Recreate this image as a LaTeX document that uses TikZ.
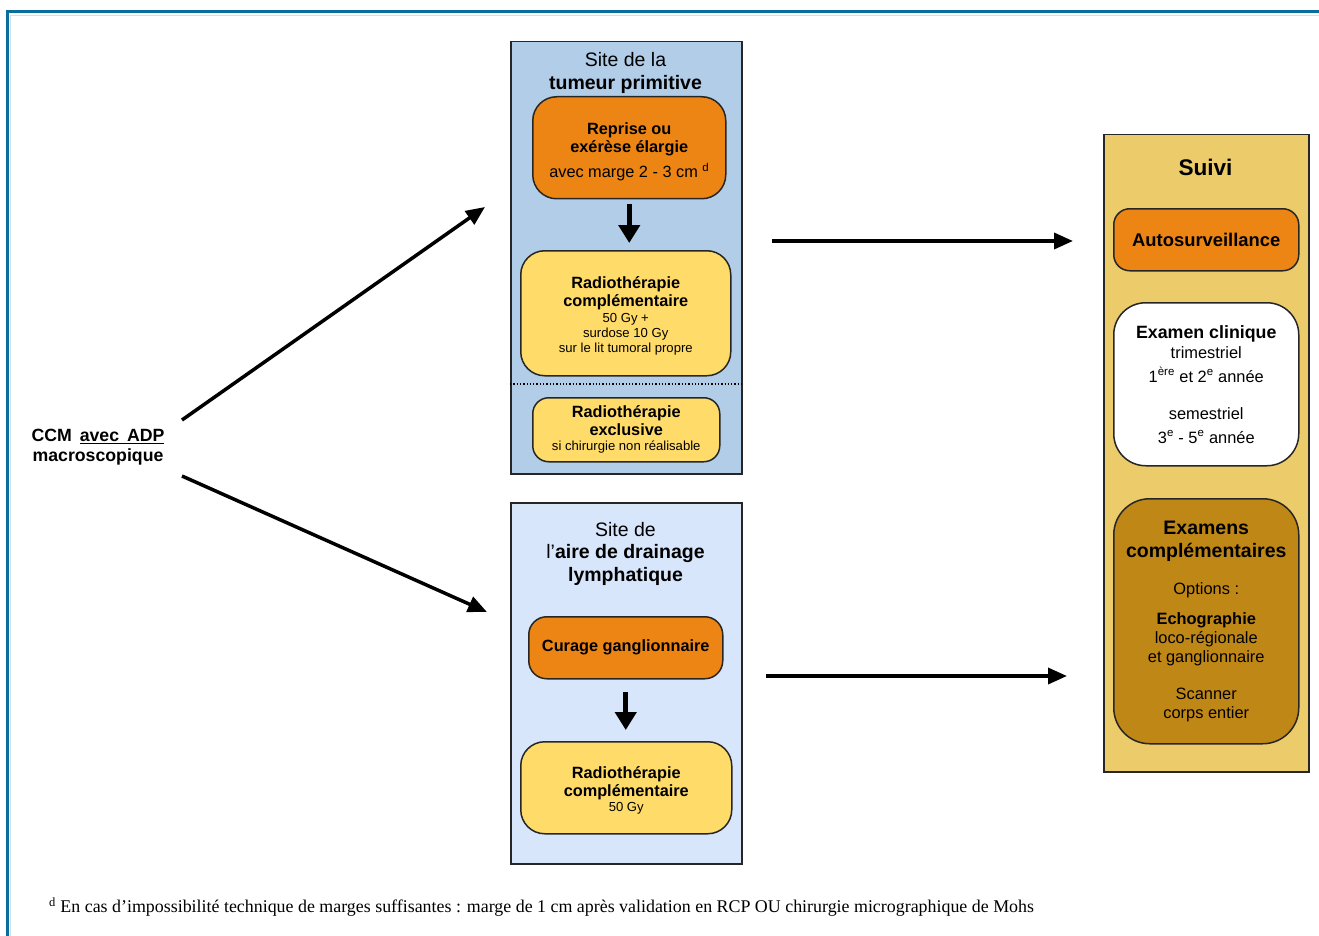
\documentclass[tikz,border=0pt]{standalone}
\usepackage{fontspec}
\setmainfont{Liberation Sans}
\newfontfamily\notefont{Liberation Serif}
\usepackage{xcolor}
\usepackage{tikz}
\usetikzlibrary{
  arrows.meta,
  positioning,
  calc
}
\definecolor{FrameBlue}{HTML}{0A6E9C}
\definecolor{SiteBlue}{HTML}{B1CDE8}
\definecolor{DrainBlue}{HTML}{D8E6FB}
\definecolor{CareOrange}{HTML}{EC8513}
\definecolor{RadioYellow}{HTML}{FFDB6A}
\definecolor{SuiviGold}{HTML}{EBCB6A}
\definecolor{ExamGold}{HTML}{BF8716}
\definecolor{EdgeGrey}{HTML}{262626}

\newcommand{\boxfont}{\fontsize{16.3}{18}\selectfont}
\newcommand{\smallfont}{\fontsize{13.1}{15}\selectfont}
\newcommand{\titlefont}{\fontsize{19.5}{22.5}\selectfont}

\tikzset{
  panel/.style={draw=EdgeGrey, line width=1.5pt, anchor=north west, inner sep=0pt},
  carebox/.style={draw=EdgeGrey, line width=1.5pt, anchor=north west,
    rounded corners=24pt, align=center, inner sep=0pt, font=\boxfont},
  flow/.style={line width=3.5pt, -{Triangle[length=19pt,width=16pt]}},
  downflow/.style={line width=5pt, -{Triangle[length=18pt,width=21pt]}}
}

\begin{document}
\begin{tikzpicture}[x=1pt,y=-1pt]
  \useasboundingbox (0,0) rectangle (1319,936);
  % frame
  \draw[FrameBlue!20, line width=1pt] (10.5,936) -- (10.5,15.5) -- (1319,15.5);
  \draw[FrameBlue, line width=3pt] (7.5,936) -- (7.5,12) -- (1319,12);

  % site de la tumeur primitive
  \node[panel, fill=SiteBlue, minimum width=231pt, minimum height=432pt] (tumeur) at (510,41) {};
  \node[align=center, font=\titlefont] (tumeurTitle) at (625.5,73)
    {Site de la\\ \textbf{tumeur primitive}};
  \node[carebox, fill=CareOrange, minimum width=193pt, minimum height=102pt] (reprise) at (532,96)
    {\rule{0pt}{20pt}\textbf{Reprise ou}\\ \textbf{exérèse élargie}\\[7pt] avec marge 2 - 3 cm \textsuperscript{d}};
  \node[carebox, fill=RadioYellow, minimum width=210pt, minimum height=125pt] (radioComp) at (520,250)
    {\rule{0pt}{17pt}\textbf{Radiothérapie}\\ \textbf{complémentaire}\\[-2pt]
     {\smallfont 50 Gy +}\\[-3pt] {\smallfont surdose 10 Gy}\\[-3pt] {\smallfont sur le lit tumoral propre}};
  \draw[line width=1.3pt, dotted] (tumeur.west |- 0,384) -- (tumeur.east |- 0,384);
  \node[carebox, fill=RadioYellow, rounded corners=16pt, minimum width=187pt, minimum height=64pt] (radioExcl) at (532,397)
    {\textbf{Radiothérapie}\\ \textbf{exclusive}\\[-3pt] {\smallfont si chirurgie non réalisable}};
  \draw[downflow, shorten <=5pt, shorten >=7pt] (reprise.south) -- (reprise.south |- radioComp.north);

  % site de l'aire de drainage
  \node[panel, fill=DrainBlue, minimum width=231pt, minimum height=361pt] (drainage) at (510,502) {};
  \node[align=center, font=\titlefont] (drainageTitle) at (625.5,553.5)
    {Site de\\ l’\textbf{aire de drainage}\\ \textbf{lymphatique}};
  \node[carebox, fill=CareOrange, rounded corners=18pt, minimum width=194pt, minimum height=62pt] (curage) at (528,616)
    {\textbf{Curage ganglionnaire}};
  \node[carebox, fill=RadioYellow, minimum width=211pt, minimum height=92pt] (radioDrain) at (520,741)
    {\rule{0pt}{17pt}\textbf{Radiothérapie}\\ \textbf{complémentaire}\\[-3pt] {\smallfont 50 Gy}};
  \draw[downflow, shorten <=12pt, shorten >=11pt] (curage.south) -- (curage.south |- radioDrain.north);

  % suivi
  \node[panel, fill=SuiviGold, minimum width=205pt, minimum height=637pt] (suivi) at (1103,134) {};
  \node[font=\fontsize{22.6}{26}\selectfont\bfseries] (suiviTitle) at (1205.5,167) {Suivi};
  \node[carebox, fill=CareOrange, rounded corners=16pt, minimum width=185pt, minimum height=62pt,
        font=\fontsize{18.4}{21}\selectfont] (auto) at (1113,208)
    {\textbf{Autosurveillance}};
  \node[carebox, fill=white, rounded corners=32pt, minimum width=185pt, minimum height=163pt,
        font=\fontsize{16.4}{24}\selectfont] (clinique) at (1113,302)
    {{\fontsize{17.8}{20}\selectfont\bfseries Examen clinique}\\[-4pt]
     trimestriel\\ 1\textsuperscript{ère} et 2\textsuperscript{e} année\\[13pt]
     semestriel\\ 3\textsuperscript{e} - 5\textsuperscript{e} année};
  \node[carebox, fill=ExamGold, rounded corners=36pt, minimum width=185pt, minimum height=245pt,
        font=\fontsize{16.4}{19}\selectfont] (examens) at (1113,498)
    {{\fontsize{19.5}{23}\selectfont\bfseries Examens}\\[4pt] {\fontsize{19.5}{23}\selectfont\bfseries complémentaires}\\[18pt]
     Options :\\[11pt] \textbf{Echographie}\\ loco-régionale\\ et ganglionnaire\\[18pt]
     Scanner\\ corps entier};

  % point de depart
  \node[align=center, font=\fontsize{17.7}{20}\selectfont\bfseries] (ccm) at (98,447)
    {CCM\hspace{0.45em}\underline{avec\hspace{0.45em}ADP}\\ macroscopique};

  \coordinate (ccmUp) at (182,420);
  \coordinate (ccmDown) at (182,476);
  \coordinate (tumeurIn) at (485,207);
  \coordinate (drainageIn) at (487,612);
  \coordinate (tumeurOut) at (772,241);
  \coordinate (suiviInA) at (1073,241);
  \coordinate (drainageOut) at (766,676);
  \coordinate (suiviInB) at (1067,676);
  \draw[flow] (ccmUp) -- (tumeurIn);
  \draw[flow] (ccmDown) -- (drainageIn);
  \draw[flow] (tumeurOut) -- (suiviInA);
  \draw[flow] (drainageOut) -- (suiviInB);

  % note
  \node[anchor=west, inner sep=0pt, font=\notefont\fontsize{17.9}{20}\selectfont] (note) at (49,907)
    {\textsuperscript{d} En cas d’impossibilité technique de marges suffisantes : marge de 1 cm après validation en RCP OU chirurgie micrographique de Mohs};
\end{tikzpicture}
\end{document}
